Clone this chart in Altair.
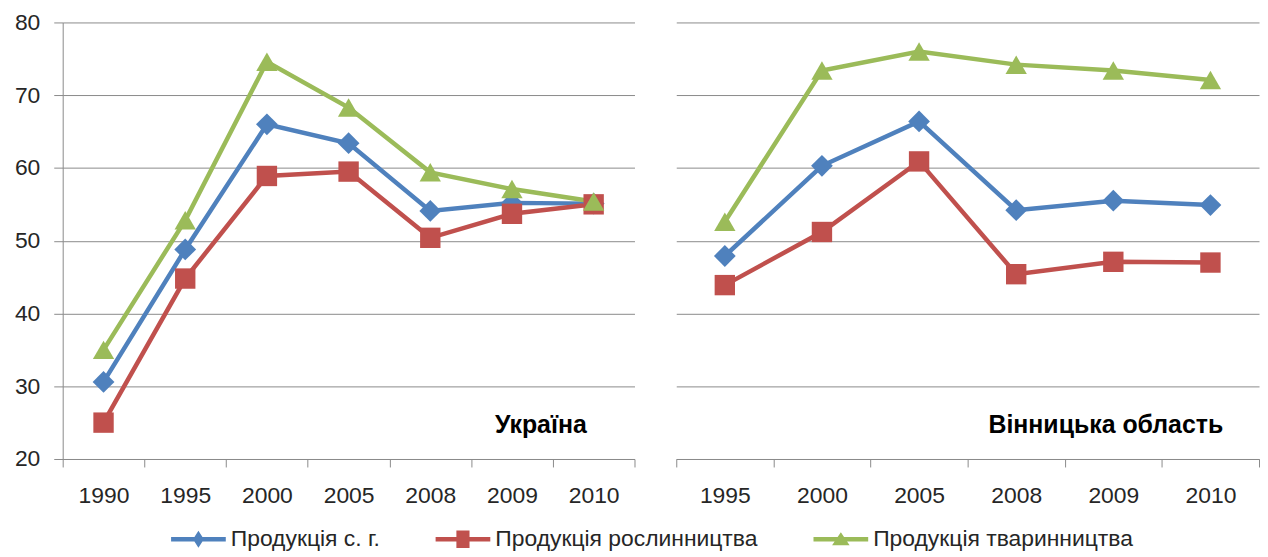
import altair as alt
import pandas as pd

series = ["Продукція с. г.", "Продукція рослинництва", "Продукція тваринництва"]
colors = ["#4F81BD", "#C0504D", "#9BBB59"]
panel_titles = ["Україна", "Вінницька область"]

years_ua = ["1990", "1995", "2000", "2005", "2008", "2009", "2010"]
ua_total = [30.6, 48.8, 66.0, 63.4, 54.1, 55.2, 55.1]
ua_crop = [25.0, 44.8, 58.9, 59.5, 50.4, 53.7, 55.0]
ua_livestock = [35.0, 52.8, 74.6, 68.3, 59.4, 57.1, 55.4]

years_vn = ["1995", "2000", "2005", "2008", "2009", "2010"]
vn_total = [47.9, 60.3, 66.4, 54.2, 55.5, 54.9]
vn_crop = [43.9, 51.2, 60.9, 45.4, 47.1, 47.0]
vn_livestock = [52.6, 73.4, 76.0, 74.2, 73.4, 72.1]

y_ticks = [20, 30, 40, 50, 60, 70, 80]

FONT = "Liberation Sans"
GRID = "#8a8a8a"
TEXT = "#262626"

marker_shapes = ["diamond", "square", "triangle-up"]
marker_sizes = [480, 420, 460]
# legend symbols: line segment with marker (unit = sqrt(size)/2)
legend_paths = [
    "M-1,-0.42L9,-0.42L9,0.42L-1,0.42Z M4,-1.55L5,0L4,1.55L3,0Z",
    "M-1,-0.42L9,-0.42L9,0.42L-1,0.42Z M2.8,-1.6L5.2,-1.6L5.2,1.6L2.8,1.6Z",
    "M-1,-0.42L9,-0.42L9,0.42L-1,0.42Z M4,-1.3L5.6,1.1L2.4,1.1Z",
]


def make_df(years, tot, crop, live):
    return pd.DataFrame({
        "year": years * 3,
        "value": tot + crop + live,
        "series": [series[0]] * len(years) + [series[1]] * len(years) + [series[2]] * len(years),
    })


def panel(years, tot, crop, live, width, show_y, title, title_x, with_legend):
    df = make_df(years, tot, crop, live)
    x = alt.X(
        "year:N", sort=years, bandPosition=0.5,
        scale=alt.Scale(type="band", paddingInner=0, paddingOuter=0),
        axis=alt.Axis(
            title=None, labelAngle=0, tickBand="extent", grid=False,
            domainColor=GRID, tickColor=GRID, tickSize=8, labelPadding=18,
            labelFont=FONT, labelFontSize=23, labelColor=TEXT,
        ),
    )
    if show_y:
        yaxis = alt.Axis(
            values=y_ticks, title=None, grid=True, gridColor=GRID,
            domainColor=GRID, tickColor=GRID, tickSize=9, labelPadding=14,
            labelFont=FONT, labelFontSize=23, labelColor=TEXT,
        )
    else:
        yaxis = alt.Axis(
            values=y_ticks, title=None, grid=True, gridColor=GRID,
            labels=False, ticks=False, domain=False,
        )
    y = alt.Y("value:Q", scale=alt.Scale(domain=[20, 80], nice=False, zero=False), axis=yaxis)
    color = alt.Color("series:N", scale=alt.Scale(domain=series, range=colors), legend=None)

    base = alt.Chart(df)
    layers = []
    if with_legend:
        leg = alt.Legend(
            title=None, orient="none", legendX=103, legendY=508, direction="horizontal",
            symbolSize=121, labelOffset=43, columnPadding=50, padding=0, labelLimit=0,
            labelFont=FONT, labelFontSize=23, labelColor=TEXT, symbolStrokeWidth=0,
            symbolOpacity=1,
        )
        layers.append(
            base.mark_point(filled=True, size=0)
            .encode(
                x=x, y=y,
                fill=alt.Fill("series:N", scale=alt.Scale(domain=series, range=colors), legend=leg),
                shape=alt.Shape("series:N", scale=alt.Scale(domain=series, range=legend_paths), legend=leg),
            )
        )
    layers.append(base.mark_line(strokeWidth=4.5).encode(x=x, y=y, color=color))
    for s, shp, sz in zip(series, marker_shapes, marker_sizes):
        layers.append(
            base.transform_filter(alt.datum.series == s)
            .mark_point(shape=shp, size=sz, filled=True, opacity=1)
            .encode(x=x, y=y, color=color)
        )
    layers.append(
        alt.Chart(pd.DataFrame({"t": [title]}))
        .mark_text(align="right", baseline="alphabetic", font=FONT, fontSize=25,
                   fontWeight="bold", color="#000000")
        .encode(x=alt.value(title_x), y=alt.value(413), text="t:N")
    )
    return alt.layer(*layers).properties(width=width, height=439)


left = panel(years_ua, ua_total, ua_crop, ua_livestock, 575, True, panel_titles[0], 527, True)
right = panel(years_vn, vn_total, vn_crop, vn_livestock, 586, False, panel_titles[1], 550, False)

chart = (
    alt.hconcat(left, right, spacing=40)
    .properties(padding={"left": 6, "top": 2, "right": 0, "bottom": 0})
    .configure_view(stroke=None)
)

chart.save("out.html", embed_options={"renderer": "svg", "actions": False})
